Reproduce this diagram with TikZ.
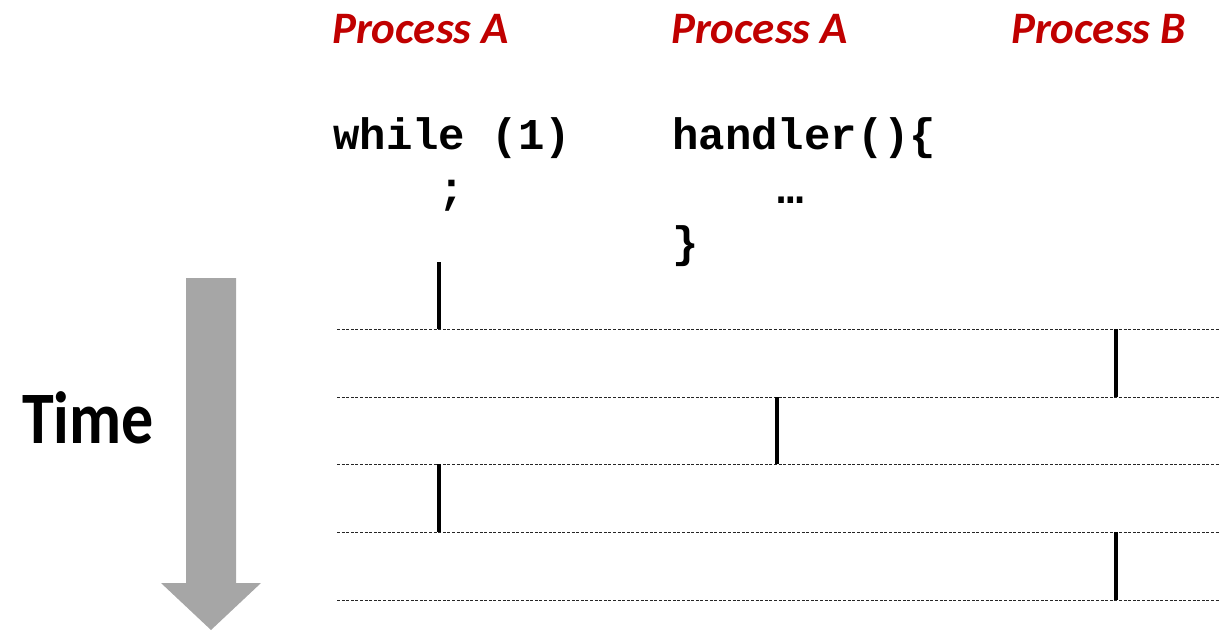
\documentclass[tikz,border=0pt]{standalone}
\usepackage{fontspec}
\setmainfont{Carlito}
\newfontfamily\codefont{Liberation Mono}
\definecolor{procred}{HTML}{C00000}
\definecolor{arrowgray}{HTML}{A6A6A6}
\tikzset{
  proc/.style={anchor=base west, inner sep=0pt, text=procred, font=\fontsize{45}{45}\selectfont\bfseries\itshape},
  code/.style={anchor=base west, inner sep=0pt, font=\fontsize{44}{54}\selectfont\codefont\bfseries, align=left},
  timeline/.style={line width=1pt, black!85, dash pattern=on 3pt off 1.6pt},
  runbar/.style={line width=4pt, black},
}
\begin{document}
\begin{tikzpicture}[x=1pt,y=-1pt]
\useasboundingbox (0,0) rectangle (1219,630);
% time arrow
\fill[arrowgray] (186,278) -- (236,278) -- (236,583) -- (261,583) -- (211,630) -- (161,583) -- (186,583) -- cycle;
\node[anchor=base west, inner sep=0pt, font=\fontsize{74}{74}\selectfont\bfseries, xscale=0.865] (time) at (22,443) {Time};
% headers
\node[proc] (pA1) at (332,43) {Process A};
\node[proc] (pA2) at (671,43) {Process A};
\node[proc] (pB) at (1011,43) {Process B};
% code
\node[code] (c1) at (333,149) {while (1)};
\node[code] (c2) at (333,203) {\ \ \ \ ;};
\node[code] (h1) at (672,149) {handler()\{};
\node[code] (h2) at (672,203) {\ \ \ \ \char"2026};
\node[code] (h3) at (672,257) {\}};
% time slices
\foreach \i/\y in {1/329,2/397,3/464,4/532,5/600}{
  \coordinate (l\i) at (337,\y);
  \coordinate (r\i) at (1219,\y);
  \draw[timeline] (l\i) -- (r\i);
}
\coordinate (a0) at (439,262);
\draw[runbar] (a0) -- (a0 |- l1);
\draw[runbar] (l1 -| 1116,0) -- (l2 -| 1116,0);
\draw[runbar] (l2 -| 777,0) -- (l3 -| 777,0);
\draw[runbar] (l3 -| 439,0) -- (l4 -| 439,0);
\draw[runbar] (l4 -| 1116,0) -- (l5 -| 1116,0);
\end{tikzpicture}
\end{document}
